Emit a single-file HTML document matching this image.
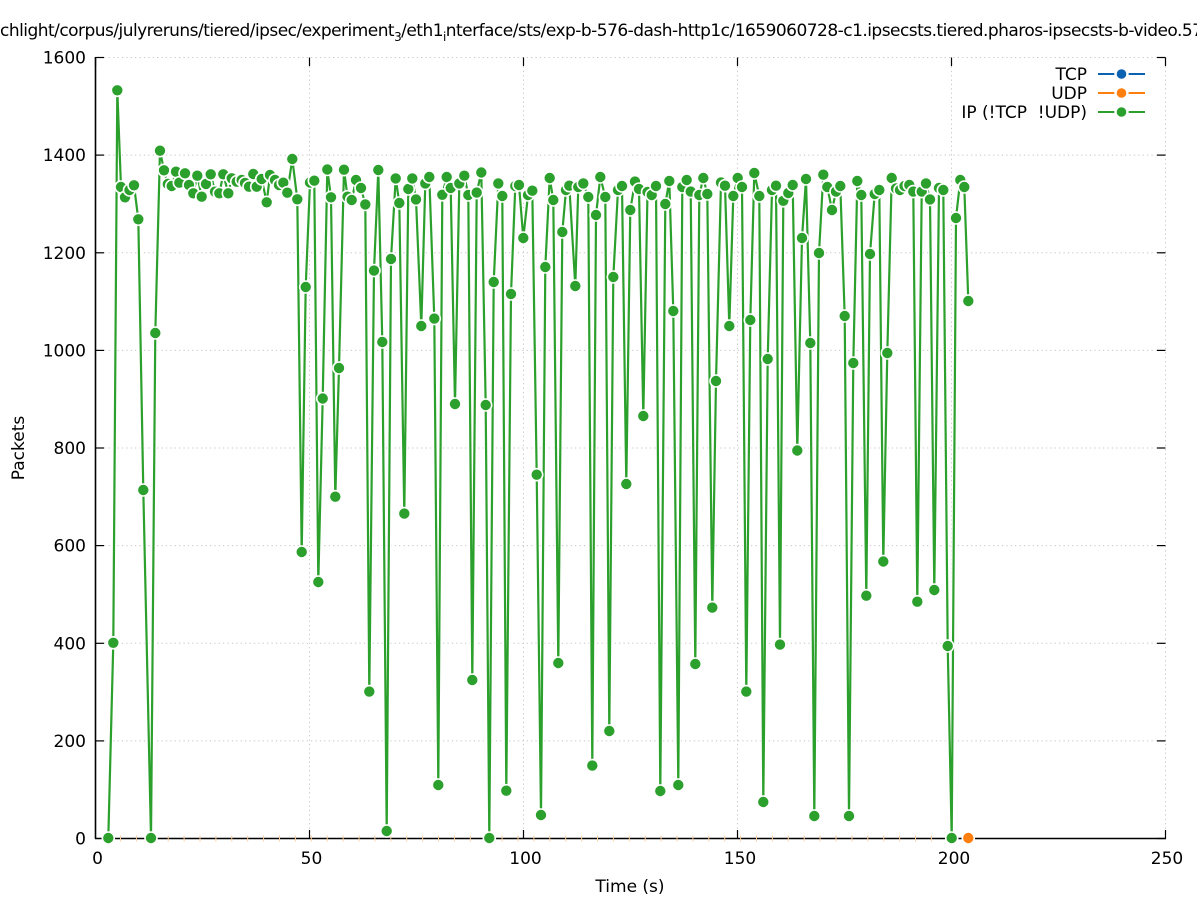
<!DOCTYPE html>
<html><head><meta charset="utf-8"><style>
html,body{margin:0;padding:0;background:#fff;}
svg{display:block;font-family:"DejaVu Sans","Liberation Sans",sans-serif;}
</style></head><body>
<svg width="1197" height="900" viewBox="0 0 1197 900" xmlns="http://www.w3.org/2000/svg">
<defs>
<marker id="mg" markerWidth="16" markerHeight="16" refX="8" refY="8" markerUnits="userSpaceOnUse" overflow="visible">
<circle cx="8" cy="8" r="6" fill="#2ca02c" stroke="#fff" stroke-width="1.6"/>
</marker>
</defs>
<rect width="1197" height="900" fill="#fff"/>
<!-- title -->
<text x="0" y="36" font-size="17" fill="#000" textLength="1203" lengthAdjust="spacing">chlight/corpus/julyreruns/tiered/ipsec/experiment<tspan font-size="12" dy="5">3</tspan><tspan dy="-5">/eth1</tspan><tspan font-size="12" dy="5">i</tspan><tspan dy="-5">nterface/sts/exp-b-576-dash-http1c/1659060728-c1.ipsecsts.tiered.pharos-ipsecsts-b-video.57</tspan></text>
<!-- grid -->
<g stroke="#c4c4c4" stroke-width="1" stroke-dasharray="1.2,3.2">
<line x1="95.5" y1="57.5" x2="1165.5" y2="57.5"/>
<line x1="95.5" y1="155.1" x2="1165.5" y2="155.1"/>
<line x1="95.5" y1="252.8" x2="1165.5" y2="252.8"/>
<line x1="95.5" y1="350.4" x2="1165.5" y2="350.4"/>
<line x1="95.5" y1="448" x2="1165.5" y2="448"/>
<line x1="95.5" y1="545.6" x2="1165.5" y2="545.6"/>
<line x1="95.5" y1="643.3" x2="1165.5" y2="643.3"/>
<line x1="95.5" y1="740.9" x2="1165.5" y2="740.9"/>
<line x1="309.5" y1="57.5" x2="309.5" y2="838.5"/>
<line x1="523.5" y1="57.5" x2="523.5" y2="838.5"/>
<line x1="737.5" y1="57.5" x2="737.5" y2="838.5"/>
<line x1="951.5" y1="57.5" x2="951.5" y2="838.5"/>
<line x1="1165.5" y1="57.5" x2="1165.5" y2="838.5"/>
</g>
<!-- axes -->
<g stroke="#000" stroke-width="1.6" fill="none">
<line x1="95.5" y1="57" x2="95.5" y2="838.5"/>
<line x1="95" y1="838.5" x2="1166" y2="838.5"/>
</g>
<g stroke="#000" stroke-width="1.2">
<line x1="95.5" y1="57.5" x2="104" y2="57.5"/>
<line x1="95.5" y1="155.1" x2="104" y2="155.1"/>
<line x1="95.5" y1="252.8" x2="104" y2="252.8"/>
<line x1="95.5" y1="350.4" x2="104" y2="350.4"/>
<line x1="95.5" y1="448" x2="104" y2="448"/>
<line x1="95.5" y1="545.6" x2="104" y2="545.6"/>
<line x1="95.5" y1="643.3" x2="104" y2="643.3"/>
<line x1="95.5" y1="740.9" x2="104" y2="740.9"/>
<line x1="1165.5" y1="57.5" x2="1157" y2="57.5"/>
<line x1="1165.5" y1="155.1" x2="1157" y2="155.1"/>
<line x1="1165.5" y1="252.8" x2="1157" y2="252.8"/>
<line x1="1165.5" y1="350.4" x2="1157" y2="350.4"/>
<line x1="1165.5" y1="448" x2="1157" y2="448"/>
<line x1="1165.5" y1="545.6" x2="1157" y2="545.6"/>
<line x1="1165.5" y1="643.3" x2="1157" y2="643.3"/>
<line x1="1165.5" y1="740.9" x2="1157" y2="740.9"/>
<line x1="1165.5" y1="838.5" x2="1157" y2="838.5"/>
<line x1="309.5" y1="838.5" x2="309.5" y2="830"/>
<line x1="523.5" y1="838.5" x2="523.5" y2="830"/>
<line x1="737.5" y1="838.5" x2="737.5" y2="830"/>
<line x1="951.5" y1="838.5" x2="951.5" y2="830"/>
<line x1="1165.5" y1="838.5" x2="1165.5" y2="830"/>
<line x1="95.5" y1="57.5" x2="95.5" y2="66"/>
<line x1="309.5" y1="57.5" x2="309.5" y2="66"/>
<line x1="523.5" y1="57.5" x2="523.5" y2="66"/>
<line x1="737.5" y1="57.5" x2="737.5" y2="66"/>
<line x1="951.5" y1="57.5" x2="951.5" y2="66"/>
<line x1="1165.5" y1="57.5" x2="1165.5" y2="66"/>
</g>
<!-- tick labels -->
<g font-size="17" fill="#000" text-anchor="end">
<text x="86" y="63.5">1600</text>
<text x="86" y="161.1">1400</text>
<text x="86" y="258.8">1200</text>
<text x="86" y="356.4">1000</text>
<text x="86" y="454">800</text>
<text x="86" y="551.6">600</text>
<text x="86" y="649.3">400</text>
<text x="86" y="746.9">200</text>
<text x="86" y="844.5">0</text>
</g>
<g font-size="17" fill="#000" text-anchor="middle">
<text x="97.5" y="864">0</text>
<text x="311.5" y="864">50</text>
<text x="525.5" y="864">100</text>
<text x="740" y="864">150</text>
<text x="954" y="864">200</text>
<text x="1167" y="864">250</text>
<text x="630" y="892">Time (s)</text>
<text transform="translate(24,448) rotate(-90)">Packets</text>
</g>
<!-- faint UDP marks along axis -->
<line x1="120" y1="838.5" x2="945" y2="838.5" stroke="#ffcf9f" stroke-width="6" stroke-dasharray="1,14.9"/>
<!-- IP series -->
<polyline fill="none" stroke="#fff" stroke-width="4.5" stroke-linejoin="round" points="108.3,838 113.3,642.8 117.3,90.3 121,187 125,197.3 129.5,190 134,185.3 138.3,219.3 143.3,490 151,838 155.3,333 160,150.7 164,170.3 167.8,184 171.7,186 176,171.7 179.3,182.7 185,173.3 189,185 193.3,193.3 197.3,175.7 201.7,196.7 206,184 210.7,174.3 215,191.7 219.3,193.3 223.3,174.3 228.3,193.3 231.7,178.3 236.7,181.7 241.7,180 245,183 249,186.7 253.3,174 256.7,186.7 261.7,179 266.7,202.3 270,175 275,180 279,185 283.3,182.7 287.3,192.7 292.3,159 297.3,199.3 301.7,552 305.7,287 310,182.5 314.3,180.7 318.3,582 322.7,398.5 327.3,169.5 331,197.3 335.3,496.7 339,368 344,169.7 347.5,196.7 351.7,200 356,180 361,188 365.3,204.4 369.3,691.6 374,270.6 378.3,170 382.3,342 386.7,831 391,259 395.7,178.4 399.3,203 404.3,513.6 408.3,189 412.3,178.4 416,199.4 421.3,326 425.3,183.4 429.3,177 434.3,318.6 438.3,785 442.3,194.8 446.7,177 450.7,188 455,404 459.3,183.4 464.3,175.7 468.3,195 472.3,680 476.7,192.6 481.3,172.5 485.7,405 489.3,838 493.7,282 498.3,183.4 502.3,196 506.3,790.7 511,294 515.3,186 519,185 523.3,238 528,195 532.3,190.7 536.7,474.7 541,815 545.3,267 549.7,178 553.3,200 558.3,663 562.3,232 566,190 569.3,185.7 575.3,286 578.3,187 583.3,183.4 588.3,197 592.3,765.6 596,215 600.3,177 605.3,197 609.3,731 613.3,277 618,190 622,186 626.3,484 630.3,210 635,181.6 639,189 643.3,416 647.5,192 651.7,195 656,186 660.3,791 665.3,204 669.3,181 673.3,311 678.3,785 682.3,187 686.7,180 690.7,191.6 695.3,664 699.3,195 703.3,178 707.3,194 712.3,607.6 716,381 721,182.5 725,185.7 729.3,326 733.3,196 737.7,178 742,187 746.3,691.6 750.3,320 754.3,173 759.3,196 763.3,802 767.7,359 772,190 776,185.7 780,644.6 783.3,200.8 788.3,193 792.7,185 797.3,450.5 802,238 806,179 810.3,343 814.3,816 819,253 823.3,174.7 827.3,187 832,210 836,191.6 840.3,186 844.7,316 849,816 853.3,363 857.3,181 861.3,195 866.3,595.7 870,254 874.7,194 879.3,190 883.3,561.5 887.3,353 891.7,178 896,188.4 900,190 904.5,186 909.3,185 913.3,191.6 917.3,601.7 921.7,191.6 926,183.4 930,199.4 934.3,590 939,188 943.3,190 947.7,646 951.7,838 956,218 960.3,180 964.3,187 968.3,301"/>
<polyline fill="none" stroke="#2ca02c" stroke-width="2.2" stroke-linejoin="round" marker-start="url(#mg)" marker-mid="url(#mg)" marker-end="url(#mg)" points="108.3,838 113.3,642.8 117.3,90.3 121,187 125,197.3 129.5,190 134,185.3 138.3,219.3 143.3,490 151,838 155.3,333 160,150.7 164,170.3 167.8,184 171.7,186 176,171.7 179.3,182.7 185,173.3 189,185 193.3,193.3 197.3,175.7 201.7,196.7 206,184 210.7,174.3 215,191.7 219.3,193.3 223.3,174.3 228.3,193.3 231.7,178.3 236.7,181.7 241.7,180 245,183 249,186.7 253.3,174 256.7,186.7 261.7,179 266.7,202.3 270,175 275,180 279,185 283.3,182.7 287.3,192.7 292.3,159 297.3,199.3 301.7,552 305.7,287 310,182.5 314.3,180.7 318.3,582 322.7,398.5 327.3,169.5 331,197.3 335.3,496.7 339,368 344,169.7 347.5,196.7 351.7,200 356,180 361,188 365.3,204.4 369.3,691.6 374,270.6 378.3,170 382.3,342 386.7,831 391,259 395.7,178.4 399.3,203 404.3,513.6 408.3,189 412.3,178.4 416,199.4 421.3,326 425.3,183.4 429.3,177 434.3,318.6 438.3,785 442.3,194.8 446.7,177 450.7,188 455,404 459.3,183.4 464.3,175.7 468.3,195 472.3,680 476.7,192.6 481.3,172.5 485.7,405 489.3,838 493.7,282 498.3,183.4 502.3,196 506.3,790.7 511,294 515.3,186 519,185 523.3,238 528,195 532.3,190.7 536.7,474.7 541,815 545.3,267 549.7,178 553.3,200 558.3,663 562.3,232 566,190 569.3,185.7 575.3,286 578.3,187 583.3,183.4 588.3,197 592.3,765.6 596,215 600.3,177 605.3,197 609.3,731 613.3,277 618,190 622,186 626.3,484 630.3,210 635,181.6 639,189 643.3,416 647.5,192 651.7,195 656,186 660.3,791 665.3,204 669.3,181 673.3,311 678.3,785 682.3,187 686.7,180 690.7,191.6 695.3,664 699.3,195 703.3,178 707.3,194 712.3,607.6 716,381 721,182.5 725,185.7 729.3,326 733.3,196 737.7,178 742,187 746.3,691.6 750.3,320 754.3,173 759.3,196 763.3,802 767.7,359 772,190 776,185.7 780,644.6 783.3,200.8 788.3,193 792.7,185 797.3,450.5 802,238 806,179 810.3,343 814.3,816 819,253 823.3,174.7 827.3,187 832,210 836,191.6 840.3,186 844.7,316 849,816 853.3,363 857.3,181 861.3,195 866.3,595.7 870,254 874.7,194 879.3,190 883.3,561.5 887.3,353 891.7,178 896,188.4 900,190 904.5,186 909.3,185 913.3,191.6 917.3,601.7 921.7,191.6 926,183.4 930,199.4 934.3,590 939,188 943.3,190 947.7,646 951.7,838 956,218 960.3,180 964.3,187 968.3,301"/>
<!-- UDP point -->
<circle cx="968.3" cy="838" r="6" fill="#ff7f0e" stroke="#fff" stroke-width="1.6"/>
<!-- legend -->
<g font-size="17" fill="#000" text-anchor="end" xml:space="preserve">
<text x="1087" y="80">TCP</text>
<text x="1087" y="99">UDP</text>
<text x="1087" y="118" xml:space="preserve">IP (!TCP  !UDP)</text>
</g>
<g stroke-width="2">
<line x1="1098" y1="74" x2="1145" y2="74" stroke="#0b62b0"/>
<circle cx="1121.5" cy="74" r="6" fill="#0b62b0" stroke="#fff" stroke-width="2.4"/>
<line x1="1098" y1="93" x2="1145" y2="93" stroke="#ff7f0e"/>
<circle cx="1121.5" cy="93" r="6" fill="#ff7f0e" stroke="#fff" stroke-width="2.4"/>
<line x1="1098" y1="112" x2="1145" y2="112" stroke="#2ca02c"/>
<circle cx="1121.5" cy="112" r="6" fill="#2ca02c" stroke="#fff" stroke-width="2.4"/>
</g>
</svg>
</body></html>
